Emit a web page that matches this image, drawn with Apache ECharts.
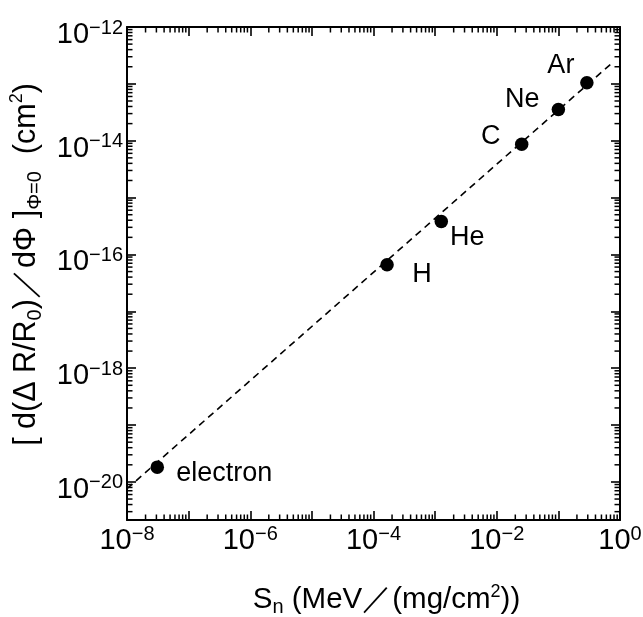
<!DOCTYPE html>
<html><head><meta charset="utf-8">
<script src="https://cdn.jsdelivr.net/npm/echarts@6/dist/echarts.min.js"></script>
<style>html,body{margin:0;padding:0;background:#fff}#c{width:643px;height:617px}</style>
</head><body><div id="c"></div>
<script>
// ---- data ----
const names = ['electron', 'H', 'He', 'C', 'Ne', 'Ar'];
const snValues = [3.1e-8, 1.66e-4, 1.26e-3, 2.54e-2, 0.10, 0.29];          // MeV/(mg/cm2)
const slopeValues = [1.82e-20, 6.6e-17, 3.8e-16, 8.7e-15, 3.55e-14, 1.05e-13]; // cm2
const fitSn = [1e-8, 0.8];
const fitSlope = [7.6e-21, 2.5e-13];
const xRange = [1e-8, 1];
const yRange = [2.14e-21, 1e-12];
const xTickExponents = [-8, -7, -6, -5, -4, -3, -2, -1, 0];
const xLabelExponents = [-8, -6, -4, -2, 0];
const yTickExponents = [-20, -19, -18, -17, -16, -15, -14, -13, -12];
const yLabelExponents = [-20, -18, -16, -14, -12];
const xMinorDecades = [-8, -7, -6, -5, -4, -3, -2, -1];
const yMinorDecades = [-21, -20, -19, -18, -17, -16, -15, -14, -13];
const minorMultipliers = [2, 3, 4, 5, 6, 7, 8, 9];

// ---- styles ----
const FONT = '"Liberation Sans", Arial, Helvetica, sans-serif';
const labelOffsets = {
  electron: [67, 6], H: [35, 10], He: [26, 16], C: [-31, -8], Ne: [-36, -10], Ar: [-26, -17]
};

const lg = Math.log10;
const xMin = lg(xRange[0]), xMax = lg(xRange[1]);
const yMin = lg(yRange[0]), yMax = lg(yRange[1]);

function minor(decades, lo, hi) {
  const out = [];
  decades.forEach(d => minorMultipliers.forEach(k => { const v = d + lg(k); if (v > lo && v < hi) out.push(v); }));
  return out;
}
const xMinor = minor(xMinorDecades, xMin, xMax);
const yMinor = minor(yMinorDecades, yMin, yMax);

const supFmt = v => '{b|10}{s|' + (Math.round(v) === 0 ? '0' : '\u2212' + Math.abs(Math.round(v))) + '}';
const tickRich = {
  b: { fontSize: 29, lineHeight: 34, fontFamily: FONT, color: '#000' },
  s: { fontSize: 20, lineHeight: 16, verticalAlign: 'top', fontFamily: FONT, color: '#000' }
};
const lineBlack = { color: '#000', width: 2 };

function axis(kind, pos, labels) {
  const a = {
    type: 'value', position: pos,
    min: kind === 'x' ? xMin : yMin, max: kind === 'x' ? xMax : yMax,
    splitLine: { show: false },
    axisLine: { show: true, onZero: false, lineStyle: lineBlack },
    axisTick: { show: true, inside: true, length: 9,
      customValues: kind === 'x' ? xTickExponents : yTickExponents,
      lineStyle: { color: '#000', width: 1.6 } },
    axisLabel: { show: false },
    axisPointer: { show: false }
  };
  if (labels) {
    a.axisLabel = {
      show: true, customValues: labels, formatter: supFmt, rich: tickRich,
      margin: 4, color: '#000'
    };
    if (kind === 'y') a.axisLabel.padding = [16, 0, 0, 0];
  }
  return a;
}

const xAxes = [axis('x', 'bottom', xLabelExponents), axis('x', 'top', null)];
const yAxes = [axis('y', 'left', yLabelExponents), axis('y', 'right', null)];

xAxes[0].name = '{t|S}{sub|n}{t| (MeV\uFF0F(mg/cm}{sup|2}{t|))}';
xAxes[0].nameLocation = 'middle';
xAxes[0].nameGap = 63;
xAxes[0].nameTextStyle = {
  padding: [0, 0, 0, 26],
  rich: {
    t: { fontSize: 29.5, lineHeight: 34, fontFamily: FONT, color: '#000' },
    sub: { fontSize: 20, lineHeight: 18, verticalAlign: 'bottom', fontFamily: FONT, color: '#000' },
    sup: { fontSize: 18, lineHeight: 18, verticalAlign: 'top', fontFamily: FONT, color: '#000' }
  }
};
yAxes[0].name = '{t|[ d(\u0394 R/R}{sub|0}{t|)\uFF0Fd\u03A6 ]}{sub|\u03A6=0}{t|  (cm}{sup|2}{t|)}';
yAxes[0].nameLocation = 'middle';
yAxes[0].nameGap = 78;
yAxes[0].nameRotate = 90;
yAxes[0].nameTextStyle = {
  padding: [0, 0, 0, 18],
  rich: {
    t: { fontSize: 30.5, lineHeight: 38, fontFamily: FONT, color: '#000' },
    sub: { fontSize: 20, lineHeight: 16, verticalAlign: 'bottom', fontFamily: FONT, color: '#000' },
    sup: { fontSize: 18, lineHeight: 16, verticalAlign: 'top', fontFamily: FONT, color: '#000' }
  }
};

const pointData = names.map((n, i) => ({
  name: n,
  value: [lg(snValues[i]), lg(slopeValues[i])],
  label: { offset: labelOffsets[n] }
}));

// minor ticks: [x, y, side]  side 0=bottom 1=top 2=left 3=right
const minorData = []
  .concat(xMinor.map(v => [v, yMin, 0]), xMinor.map(v => [v, yMax, 1]))
  .concat(yMinor.map(v => [xMin, v, 2]), yMinor.map(v => [xMax, v, 3]));
const MINOR_LEN = 5.5;
const minorDir = [[0, -1], [0, 1], [1, 0], [-1, 0]];

const option = {
  animation: false,
  backgroundColor: '#fff',
  grid: { left: 127, top: 27, width: 493, height: 493, containLabel: false, outerBoundsMode: 'none' },
  xAxis: xAxes,
  yAxis: yAxes,
  series: [
    {
      type: 'custom', xAxisIndex: 0, yAxisIndex: 0, silent: true, clip: false,
      encode: { x: 0, y: 1 },
      data: minorData,
      renderItem: (params, api) => {
        const p = api.coord([api.value(0), api.value(1)]);
        const d = minorDir[api.value(2)];
        return {
          type: 'line',
          shape: { x1: p[0], y1: p[1], x2: p[0] + d[0] * MINOR_LEN, y2: p[1] + d[1] * MINOR_LEN },
          style: { stroke: '#000', lineWidth: 1.5 }
        };
      },
      z: 5
    },
    {
      type: 'line', xAxisIndex: 0, yAxisIndex: 0, symbol: 'none', silent: true,
      data: fitSn.map((v, i) => [lg(v), lg(fitSlope[i])]),
      lineStyle: { color: '#000', width: 1.6, type: [7, 5] }, z: 2
    },
    {
      type: 'scatter', xAxisIndex: 0, yAxisIndex: 0, symbol: 'circle', symbolSize: 13.5,
      itemStyle: { color: '#000', opacity: 1 },
      label: {
        show: true, position: 'inside', formatter: p => p.name,
        fontSize: 27, fontFamily: FONT, color: '#000', opacity: 1,
        textBorderWidth: 0, align: 'center', verticalAlign: 'middle'
      },
      emphasis: { disabled: true },
      data: pointData, z: 3
    }
  ]
};
const chart = echarts.init(document.getElementById('c'), null, { renderer: 'canvas' });
chart.setOption(option);
</script></body></html>
